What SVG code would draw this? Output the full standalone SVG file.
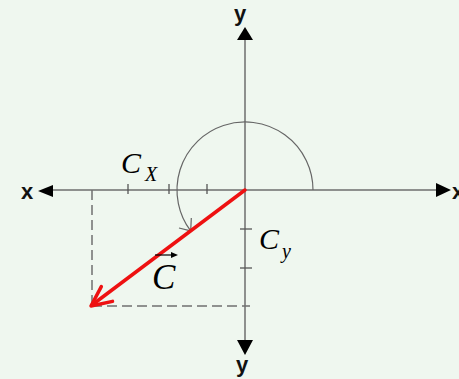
<svg xmlns="http://www.w3.org/2000/svg" width="459" height="379" viewBox="0 0 459 379">
<defs>
<style>
.axis{stroke:#6e6e6e;stroke-width:1.5;fill:none}
.tick{stroke:#555;stroke-width:1.3}
.dash{stroke:#707070;stroke-width:1.5;stroke-dasharray:10 5;fill:none}
.head{fill:#000}
.axlbl{font-family:"Liberation Sans",Arial,sans-serif;font-weight:bold;font-size:22px;fill:#111}
.math{font-family:"Liberation Serif","Times New Roman",serif;font-style:italic;fill:#000}
</style>
</defs>
<rect width="459" height="379" fill="#eff7ef"/>
<g id="axes">
<line class="axis" x1="53" y1="190" x2="436" y2="190"/>
<line class="axis" x1="245" y1="40" x2="245" y2="340"/>
<polygon class="head" points="38,191 53,185 53,197"/>
<polygon class="head" points="451,190 436,183 436,197"/>
<polygon class="head" points="245,27 237,40 253,40"/>
<polygon class="head" points="245,355 237,340 253,340"/>
<text class="axlbl" x="21" y="199">x</text>
<text class="axlbl" x="452" y="199">x</text>
<text class="axlbl" x="234" y="21">y</text>
<text class="axlbl" x="236" y="372">y</text>
</g>
<g id="ticks">
<line class="tick" x1="128" y1="184" x2="128" y2="194"/>
<line class="tick" x1="169" y1="184" x2="169" y2="194"/>
<line class="tick" x1="207" y1="184" x2="207" y2="194"/>
<line class="tick" x1="240" y1="229" x2="252" y2="229"/>
<line class="tick" x1="240" y1="268" x2="252" y2="268"/>
</g>
<g id="connectors">
<path class="dash" d="M92 190 V306"/>
<path class="dash" d="M92 306 H250"/>
<path d="M313 190 A68 68 0 1 0 190.7 230.9" fill="none" stroke="#666" stroke-width="1.2"/>
<path d="M179 228 L190.7 230.9 L191.3 218" fill="none" stroke="#666" stroke-width="1.2"/>
</g>
<g id="vector">
<line x1="245" y1="190" x2="92" y2="305" stroke="#ee1111" stroke-width="3.5" stroke-linecap="round"/>
<path d="M112.5 301.4 L91 306 L101.3 286.6" fill="none" stroke="#ee1111" stroke-width="3.5" stroke-linecap="round" stroke-linejoin="round"/>
</g>
<g id="labels">
<text class="math" x="121" y="173" font-size="30">C</text>
<text class="math" x="145" y="181" font-size="20">X</text>
<text class="math" x="259" y="249" font-size="30">C</text>
<text class="math" x="282" y="258" font-size="20">y</text>
<text class="math" x="152" y="289" font-size="35">C</text>
<line x1="155" y1="255" x2="172" y2="255" stroke="#000" stroke-width="1.2"/>
<polygon points="178,255 171,252 171,258" fill="#000"/>
</g>
</svg>
